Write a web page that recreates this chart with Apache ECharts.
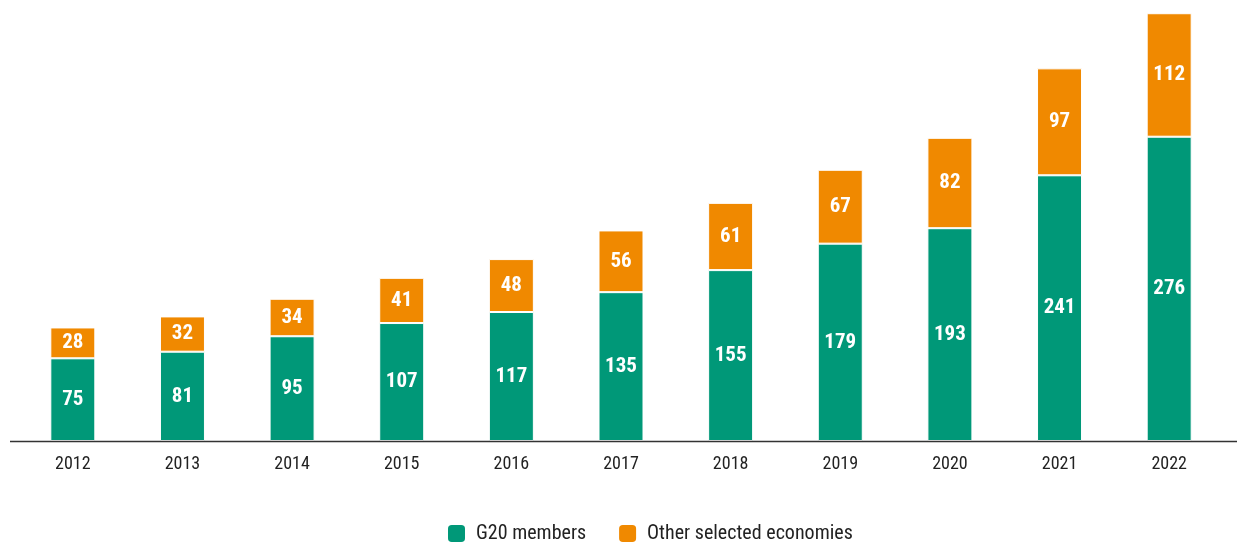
<!DOCTYPE html>
<html><head><meta charset="utf-8">
<script src="https://cdn.jsdelivr.net/npm/echarts@6/dist/echarts.min.js"></script>
<style>html,body{margin:0;padding:0;background:#fff}#c{width:1237px;height:543px}</style>
</head><body><div id="c"></div>
<script>
const categories = ['2012','2013','2014','2015','2016','2017','2018','2019','2020','2021','2022'];
const g20 = [75,81,95,107,117,135,155,179,193,241,276];
const others = [28,32,34,41,48,56,61,67,82,97,112];
const FONT = '"Liberation Sans Narrow","Roboto Condensed","Liberation Sans",sans-serif';
const chart = echarts.init(document.getElementById('c'), null, {renderer:'canvas'});
const lbl = {show:true, position:'inside', color:'#fff', fontWeight:'bold', fontSize:21, fontFamily:FONT};
chart.setOption({
  animation:false,
  grid:{left:18, right:13, top:0, bottom:102, containLabel:false},
  legend:{top:523, left:446, padding:0, itemWidth:19, itemHeight:19, itemGap:31,
    icon:'roundRect', textStyle:{fontSize:20, lineHeight:19, color:'#222', fontFamily:FONT, padding:[0,0,0,5]},
    data:['G20 members','Other selected economies']},
  xAxis:{type:'category', data:categories, axisLine:{show:false}, axisTick:{show:false},
    axisLabel:{fontSize:18, color:'#222', fontFamily:FONT, margin:14}},
  yAxis:{type:'value', min:0, max:400, show:false, splitLine:{show:false}},
  graphic:[{type:'line', shape:{x1:10,y1:441.5,x2:1237,y2:441.5}, style:{stroke:'#333',lineWidth:1.5}, z:100}],
  series:[
    {name:'G20 members', type:'bar', stack:'t', data:g20, barWidth:45, itemStyle:{color:'#009878', borderColor:'#fff', borderWidth:1}, label:lbl},
    {name:'Other selected economies', type:'bar', stack:'t', data:others, barWidth:45, itemStyle:{color:'#f08900', borderColor:'#fff', borderWidth:1}, label:lbl}
  ]
});
</script></body></html>
